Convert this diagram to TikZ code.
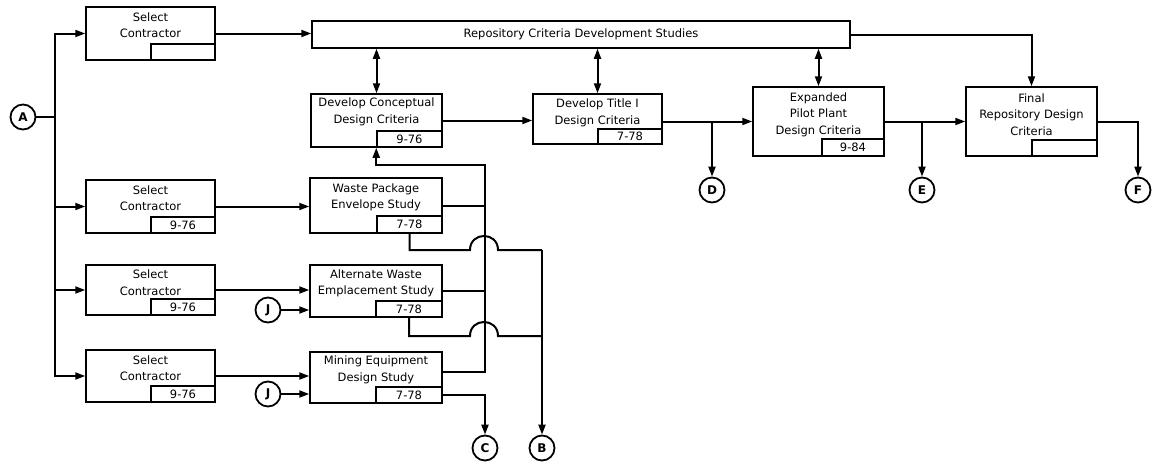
\documentclass[tikz,border=0pt]{standalone}
\usepackage{fontspec}
\setmainfont{DejaVu Sans}
\usetikzlibrary{arrows.meta,calc}

\tikzset{
  box/.style={draw, line width=1.5pt, inner sep=0pt},
  datebox/.style={draw, line width=1.5pt, inner sep=0pt, minimum width=64pt,
    minimum height=16pt, anchor=south east, font=\fontsize{11.5}{13}\selectfont},
  lbl/.style={align=center, inner sep=0pt, font=\fontsize{11.5}{16.5}\selectfont},
  conn/.style={line width=2pt},
  arr/.style={conn, -{Triangle[length=10pt,width=7pt]}},
  darr/.style={conn, {Triangle[length=10pt,width=7pt]}-{Triangle[length=10pt,width=7pt]}},
  joint/.style={circle, draw, line width=1.8pt, minimum size=25pt, inner sep=0pt,
    font=\bfseries\fontsize{12}{14}\selectfont},
}

\begin{document}
\begin{tikzpicture}[x=1pt,y=-1pt]
\useasboundingbox (0,0) rectangle (1160,466);

% ---- contractor selection column
\node[box, minimum width=129pt, minimum height=53pt] (sc0) at (150.5,33.5) {};
\node[lbl] (sc0t) at (150.5,25) {Select\\Contractor};
\node[datebox] (sc0d) at (sc0.south east) {};

\node[box, minimum width=129pt, minimum height=53pt] (sc1) at (150.5,206.5) {};
\node[lbl] (sc1t) at (150.5,198) {Select\\Contractor};
\node[datebox] (sc1d) at (sc1.south east) {9-76};

\node[box, minimum width=129pt, minimum height=50pt] (sc2) at (150.5,290) {};
\node[lbl] (sc2t) at (150.5,282.5) {Select\\Contractor};
\node[datebox] (sc2d) at (sc2.south east) {9-76};

\node[box, minimum width=129pt, minimum height=52pt] (sc3) at (150.5,376) {};
\node[lbl] (sc3t) at (150.5,368) {Select\\Contractor};
\node[datebox] (sc3d) at (sc3.south east) {9-76};

% ---- studies
\node[box, minimum width=538pt, minimum height=27pt, font=\fontsize{11.5}{13}\selectfont]
  (repo) at (581,34.5) {Repository Criteria Development Studies};

\node[box, minimum width=131pt, minimum height=53pt] (dcd) at (376.5,120.5) {};
\node[lbl] (dcdt) at (376.5,112) {Develop Conceptual\\Design Criteria};
\node[datebox, minimum width=65pt] (dcdd) at (dcd.south east) {9-76};

\node[box, minimum width=132pt, minimum height=55pt] (wp) at (376,205.5) {};
\node[lbl] (wpt) at (376,197.5) {Waste Package\\Envelope Study};
\node[datebox, minimum width=65pt, minimum height=17pt] (wpd) at (wp.south east) {7-78};

\node[box, minimum width=132pt, minimum height=52pt] (aw) at (376,291) {};
\node[lbl] (awt) at (376,283.5) {Alternate Waste\\Emplacement Study};
\node[datebox, minimum width=66pt] (awd) at (aw.south east) {7-78};

\node[box, minimum width=132pt, minimum height=51pt] (me) at (376,377.5) {};
\node[lbl] (met) at (376,370) {Mining Equipment\\Design Study};
\node[datebox, minimum width=66pt] (med) at (me.south east) {7-78};

\node[box, minimum width=129pt, minimum height=50pt] (dt) at (597.5,119) {};
\node[lbl] (dtt) at (597.5,113) {Develop Title I\\Design Criteria};
\node[datebox, minimum width=64pt, minimum height=15pt] (dtd) at (dt.south east) {7-78};

\node[box, minimum width=131pt, minimum height=69pt] (ep) at (818.5,121.5) {};
\node[lbl] (ept) at (818.5,114.5) {Expanded\\Pilot Plant\\Design Criteria};
\node[datebox, minimum width=62pt, minimum height=17pt] (epd) at (ep.south east) {9-84};

\node[box, minimum width=131pt, minimum height=69pt] (fr) at (1031.5,121.5) {};
\node[lbl] (frt) at (1031.5,114.5) {Final\\Repository Design\\Criteria};
\node[datebox, minimum width=65pt] (frd) at (fr.south east) {};

% ---- connectors (off-page references)
\node[joint] (A) at (23,117) {A};
\node[joint] (D) at (712,190) {D};
\node[joint] (E) at (922,190) {E};
\node[joint] (F) at (1138,190) {F};
\node[joint] (C) at (485,448) {C};
\node[joint] (B) at (542,448) {B};
\node[joint] (J1) at (268,310) {J};
\node[joint] (J2) at (268,394) {J};

% ---- feed from A to the contractor selections
\coordinate (busA) at (55,117);
\draw[conn] (A) -- (busA);
\draw[arr] (busA) |- (sc0.west);
\draw[arr] (busA) |- (sc1.west);
\draw[arr] (busA) |- (sc2.west);
\draw[arr] (busA) |- (sc3.west);

% ---- top row
\draw[arr] (sc0.east) -- (sc0.east -| repo.west);
\draw[darr] (repo.south -| dcd.north) -- (dcd.north);
\draw[darr] (repo.south -| dt.north) -- (dt.north);
\draw[darr] (repo.south -| ep.north) -- (ep.north);
\draw[arr] (repo.east) -| (fr.north);
\draw[arr] (dcd.east) -- (dcd.east -| dt.west);
\draw[arr] (dt.east |- ep.west) -- (ep.west);
\coordinate (dj) at (712,121.5);
\draw[arr] (dj) -- (D.north);
\draw[arr] (ep.east) -- (fr.west);
\coordinate (ej) at (922,121.5);
\draw[arr] (ej) -- (E.north);
\draw[arr] (fr.east) -| (F.north);

% ---- contractor selections to studies
\draw[arr] (sc1.east) -- (sc1.east -| wp.west);
\draw[arr] (sc2.east) -- (sc2.east -| aw.west);
\draw[arr] (sc3.east) -- (sc3.east -| me.west);
\draw[arr] (J1) -- (J1 -| aw.west);
\draw[arr] (J2) -- (J2 -| me.west);

% ---- study results back to conceptual criteria
\coordinate (busTop) at (485,165);
\coordinate (busBot) at (485,372);
\draw[arr] ($(me.east)+(0,-5.5)$) -- (busBot) -- (busTop) -| (dcdd.south west);
\draw[conn] (wp.east) -- (wp.east -| busTop);
\draw[conn] (aw.east) -- (aw.east -| busTop);

% ---- study results to B (hopping over the bus)
\coordinate (bTop) at (542,250);
\draw[conn] (wpd.south) |- (470,250) .. controls (470,231.3) and (498,231.3) .. (498,250) -- (bTop);
\draw[conn] (awd.south) |- (470,336) .. controls (470,317.3) and (498,317.3) .. (498,336) -- (542,336);
\draw[conn] ($(me.east)+(0,1.5)$) -- ($(me.east)+(0,1.5)$ -| bTop);
\draw[arr] (bTop) -- (B.north);

% ---- mining study to C
\draw[arr] (med.east) -| (C.north);
\end{tikzpicture}
\end{document}
